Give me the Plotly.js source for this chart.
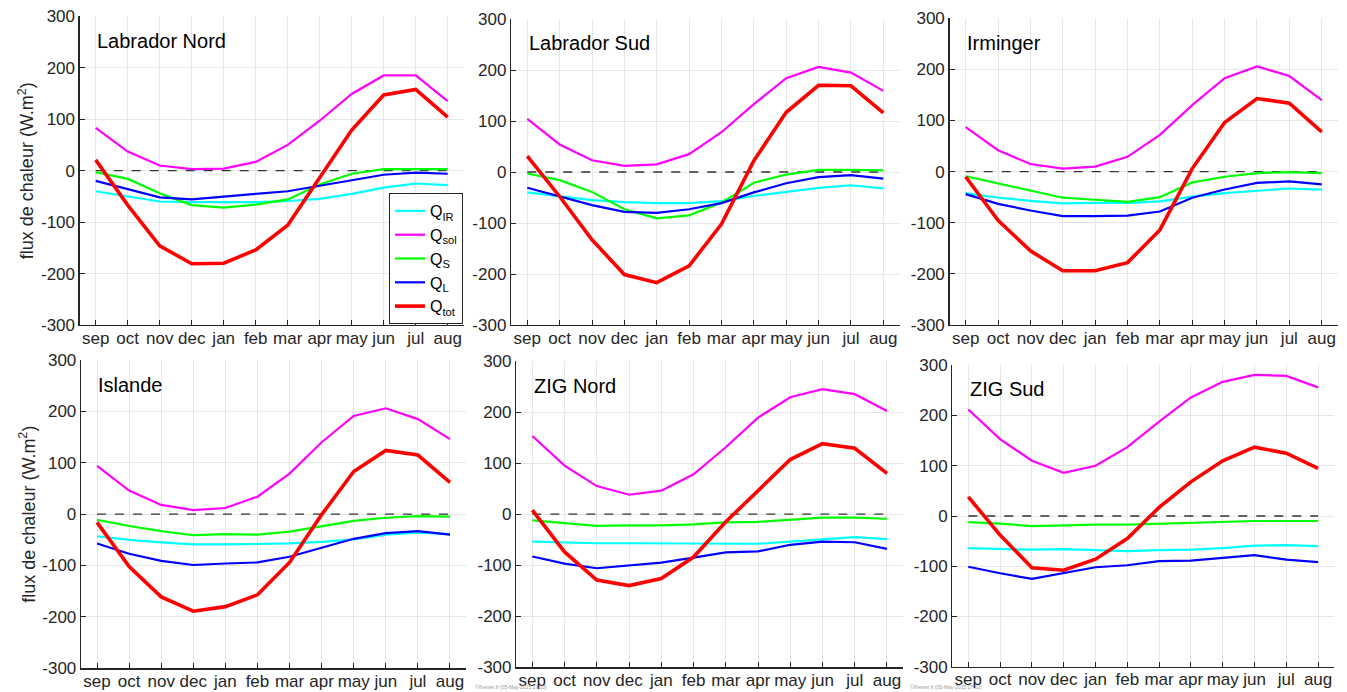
<!DOCTYPE html>
<html>
<head>
<meta charset="utf-8">
<script src="https://cdn.plot.ly/plotly-3.0.1.min.js"></script>
<style>
html,body{margin:0;padding:0;background:#fff;}
#chart{width:1347px;height:692px;}
</style>
</head>
<body>
<div id="chart"></div>
<script>
// ---- data ----
const months = ["sep","oct","nov","dec","jan","feb","mar","apr","may","jun","jul","aug"];
const yTickVals = [-300,-200,-100,0,100,200,300];
const yTickText = ["-300","-200","-100","0","100","200","300"];
const regionNames = ["Labrador Nord","Labrador Sud","Irminger","Islande","ZIG Nord","ZIG Sud"];
const seriesNames = ["Q<sub>IR</sub>","Q<sub>sol</sub>","Q<sub>S</sub>","Q<sub>L</sub>","Q<sub>tot</sub>"];
const yTitle = "flux de chaleur (W.m<sup>2</sup>)";

// Labrador Nord
const labNord_IR  = [-40,-50,-60,-61,-61,-61,-59,-55,-45,-33,-25,-28];
const labNord_sol = [83,37,10,3,4,17,50,97,149,185,185,135];
const labNord_S   = [-3,-16,-44,-67,-72,-66,-56,-27,-6,3,3,3];
const labNord_L   = [-20,-36,-52,-56,-50,-45,-40,-29,-19,-8,-4,-6];
const labNord_tot = [21,-67,-146,-181,-180,-154,-106,-12,79,147,158,104];

// Labrador Sud
const labSud_IR  = [-40,-47,-55,-59,-61,-61,-57,-47,-39,-31,-26,-32];
const labSud_sol = [104,54,23,12,15,35,78,133,184,206,195,159];
const labSud_S   = [-3,-16,-39,-73,-91,-85,-60,-21,-5,4,4,3];
const labSud_L   = [-31,-48,-65,-78,-80,-73,-61,-40,-22,-10,-6,-13];
const labSud_tot = [31,-48,-133,-201,-217,-184,-102,22,117,170,169,116];

// Irminger
const irm_IR  = [-42,-51,-57,-62,-61,-61,-58,-49,-42,-37,-33,-35];
const irm_sol = [87,42,15,6,10,29,72,130,183,206,187,140];
const irm_S   = [-9,-23,-37,-51,-55,-59,-50,-21,-10,-3,-1,-3];
const irm_L   = [-44,-63,-76,-87,-87,-86,-78,-51,-35,-22,-19,-25];
const irm_tot = [-10,-95,-155,-194,-194,-178,-114,6,96,143,134,78];

// Islande
const isl_IR  = [-43,-50,-55,-59,-59,-58,-57,-54,-49,-40,-36,-39];
const isl_sol = [94,46,18,8,12,34,79,140,191,206,185,146];
const isl_S   = [-11,-23,-33,-41,-39,-40,-34,-23,-13,-7,-4,-5];
const isl_L   = [-57,-77,-91,-99,-96,-94,-83,-66,-48,-37,-33,-40];
const isl_tot = [-16,-102,-161,-189,-180,-157,-94,-1,83,124,115,62];

// ZIG Nord
const zigN_IR  = [-54,-56,-57,-57,-57,-58,-58,-58,-54,-50,-45,-49];
const zigN_sol = [153,95,55,38,46,78,131,189,229,245,235,202];
const zigN_S   = [-12,-17,-23,-22,-22,-20,-16,-15,-11,-7,-7,-9];
const zigN_L   = [-83,-97,-106,-101,-95,-85,-75,-73,-60,-54,-55,-68];
const zigN_tot = [8,-74,-129,-140,-126,-84,-15,47,107,138,129,80];

// ZIG Sud
const zigS_IR  = [-64,-65,-67,-66,-68,-70,-68,-67,-64,-59,-58,-60];
const zigS_sol = [212,153,110,86,100,137,188,236,267,281,279,256];
const zigS_S   = [-12,-15,-20,-18,-17,-17,-15,-14,-12,-10,-10,-10];
const zigS_L   = [-101,-114,-125,-113,-102,-98,-90,-89,-84,-78,-87,-92];
const zigS_tot = [38,-38,-103,-108,-86,-45,17,68,110,137,125,95];

const zeroLine = [0,0,0,0,0,0,0,0,0,0,0,0];

const panels = [
  [labNord_IR, labNord_sol, labNord_S, labNord_L, labNord_tot],
  [labSud_IR, labSud_sol, labSud_S, labSud_L, labSud_tot],
  [irm_IR, irm_sol, irm_S, irm_L, irm_tot],
  [isl_IR, isl_sol, isl_S, isl_L, isl_tot],
  [zigN_IR, zigN_sol, zigN_S, zigN_L, zigN_tot],
  [zigS_IR, zigS_sol, zigS_S, zigS_L, zigS_tot]
];

// ---- style / layout ----
const colors = ["#00FFFF","#FF00FF","#00FF00","#0000FF","#FF0000"];
const widths = [2.2,2.2,2.2,2.2,3.6];
const W = 1347, H = 692;
// pixel boxes [left, right, top, bottom]
const boxes = [
  [79.7, 463.7, 16.3, 325],
  [511.1, 899.5, 19, 325],
  [949.5, 1337.9, 18.3, 325],
  [81, 466, 360, 668.3],
  [516.2, 903.1, 361, 667.3],
  [952.4, 1334, 365.3, 666.7]
];
const FONT = "Liberation Sans, Arial, Helvetica, sans-serif";
const TXT = "#262626";

const traces = [];
const layout = {
  width: W, height: H,
  margin: {l:0, r:0, t:0, b:0},
  paper_bgcolor: "#fff", plot_bgcolor: "#fff",
  font: {family: FONT, color: TXT, size: 17},
  showlegend: true,
  legend: {
    x: 389/W, y: 1-193/H, xanchor: "left", yanchor: "top",
    bgcolor: "#fff", bordercolor: "#262626", borderwidth: 1,
    font: {family: FONT, size: 16, color: "#000"},
    itemwidth: 30, tracegroupgap: 0
  },
  annotations: []
};

panels.forEach((series, p) => {
  const k = p === 0 ? "" : String(p+1);
  const xa = "x"+k, ya = "y"+k;
  traces.push({
    x: months.map((m,i)=>i), y: zeroLine, xaxis: xa, yaxis: ya,
    mode: "lines", line: {color: "#333", width: 1.3, dash: "dash"},
    showlegend: false, hoverinfo: "skip"
  });
  series.forEach((vals, s) => {
    traces.push({
      x: months.map((m,i)=>i), y: vals, xaxis: xa, yaxis: ya,
      mode: "lines", name: seriesNames[s],
      line: {color: colors[s], width: widths[s]},
      showlegend: p === 0
    });
  });
  const b = boxes[p];
  layout["xaxis"+k] = {
    domain: [b[0]/W, b[1]/W], anchor: ya,
    range: [-0.5, 11.5], tickmode: "array",
    tickvals: months.map((m,i)=>i), ticktext: months,
    showgrid: true, gridcolor: "#e6e6e6", gridwidth: 1,
    showline: true, linecolor: "#262626", linewidth: 1.3, mirror: false,
    ticks: "inside", ticklen: 5, tickcolor: "#262626",
    ticklabelstandoff: -3,
    tickfont: {family: FONT, size: 17, color: TXT},
    zeroline: false, fixedrange: true
  };
  layout["yaxis"+k] = {
    domain: [1-b[3]/H, 1-b[2]/H], anchor: xa,
    range: [-300, 300], tickmode: "array",
    tickvals: yTickVals, ticktext: yTickText,
    showgrid: true, gridcolor: "#e6e6e6", gridwidth: 1,
    showline: true, linecolor: "#262626", linewidth: 1.3, mirror: false,
    ticks: "inside", ticklen: 5, tickcolor: "#262626",
    tickfont: {family: FONT, size: 17, color: TXT},
    zeroline: false, fixedrange: true
  };
  if (p === 0 || p === 3) {
    layout["yaxis"+k].title = {text: yTitle, font: {family: FONT, size: 18, color: TXT}, standoff: 2};
  }
  layout.annotations.push({
    xref: xa, yref: ya, x: -0.02, y: 252, xanchor: "left", yanchor: "middle",
    text: regionNames[p], showarrow: false,
    font: {family: FONT, size: 20, color: "#000"}
  });
});

// tiny footer stamps
layout.annotations.push({xref:"paper", yref:"paper", x: 473/W, y: 0, xanchor:"left", yanchor:"bottom",
  text: "©Ifremer.fr (05-May-2015 17:10)", showarrow:false, font:{family:FONT, size:5, color:"#999"}});
layout.annotations.push({xref:"paper", yref:"paper", x: 908/W, y: 0, xanchor:"left", yanchor:"bottom",
  text: "©Ifremer.fr (05-May-2015 17:10)", showarrow:false, font:{family:FONT, size:5, color:"#999"}});

Plotly.newPlot("chart", traces, layout, {displayModeBar: false, staticPlot: true});
</script>
</body>
</html>
